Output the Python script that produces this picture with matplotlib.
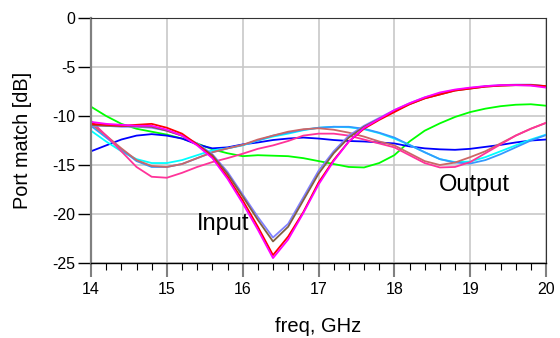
import numpy as np
import matplotlib as mpl
mpl.use('Agg')
import matplotlib.pyplot as plt
from matplotlib.ticker import MultipleLocator

plt.rcParams['font.family'] = ['Liberation Sans', 'DejaVu Sans']
plt.rcParams['axes.unicode_minus'] = False

# frequency grid, GHz
freq = [14.0, 14.2, 14.4, 14.6, 14.8, 15.0, 15.2, 15.4, 15.6, 15.8,
        16.0, 16.2, 16.4, 16.6, 16.8, 17.0, 17.2, 17.4, 17.6, 17.8,
        18.0, 18.2, 18.4, 18.6, 18.8, 19.0, 19.2, 19.4, 19.6, 19.8, 20.0]

# input port match curves (dB)
in_red = [-10.8, -10.9, -11.0, -10.9, -10.8, -11.2, -11.8, -12.9, -14.2, -16.2,
          -18.6, -21.3, -24.2, -22.3, -19.8, -16.8, -14.5, -12.6, -11.3, -10.4,
          -9.6, -8.8, -8.2, -7.8, -7.4, -7.2, -7.0, -6.9, -6.85, -6.85, -6.95]
in_magenta = [-10.6, -10.8, -10.9, -11.0, -11.0, -11.4, -12.0, -13.0, -14.3, -16.4,
              -18.9, -21.6, -24.5, -22.6, -19.9, -17.0, -14.6, -12.6, -11.2, -10.3,
              -9.4, -8.7, -8.1, -7.6, -7.3, -7.1, -6.95, -6.85, -6.85, -6.9, -7.1]
in_olive = [-10.9, -11.0, -11.0, -11.05, -11.1, -11.5, -12.0, -12.9, -14.0, -15.9,
            -18.2, -20.6, -22.8, -21.3, -18.6, -15.9, -13.8, -12.2, -11.1, -10.3,
            -9.5, -8.8, -8.2, -7.8, -7.4, -7.2, -7.0, -6.9, -6.85, -6.85, -6.95]
in_slate = [-11.0, -11.0, -11.1, -11.1, -11.2, -11.5, -12.0, -12.8, -13.9, -15.7,
            -18.0, -20.3, -22.4, -21.0, -18.3, -15.6, -13.6, -12.0, -11.0, -10.2,
            -9.4, -8.7, -8.1, -7.7, -7.35, -7.15, -6.95, -6.85, -6.8, -6.8, -6.95]

# output port match curves (dB)
out_green = [-9.05, -10.0, -10.8, -11.3, -11.6, -11.9, -12.3, -12.8, -13.4, -13.8,
             -14.1, -14.0, -14.05, -14.1, -14.3, -14.6, -14.9, -15.2, -15.25, -14.8,
             -14.0, -12.6, -11.5, -10.75, -10.1, -9.6, -9.25, -9.0, -8.85, -8.8, -8.95]
out_blue = [-13.6, -13.0, -12.4, -12.0, -11.85, -12.0, -12.3, -12.9, -13.3, -13.2,
            -12.9, -12.7, -12.45, -12.3, -12.2, -12.3, -12.45, -12.55, -12.6, -12.7,
            -12.8, -13.1, -13.3, -13.4, -13.45, -13.35, -13.15, -12.95, -12.7, -12.5, -12.4]
out_cyan = [-11.5, -12.6, -13.6, -14.4, -14.8, -14.8, -14.5, -14.0, -13.5, -13.3,
            -13.0, -12.5, -12.1, -11.8, -11.45, -11.2, -11.1, -11.15, -11.35, -11.75,
            -12.3, -12.95, -13.7, -14.4, -14.7, -14.65, -14.2, -13.6, -13.0, -12.4, -11.9]
out_sky = [-11.0, -12.2, -13.4, -14.6, -15.2, -15.2, -14.9, -14.3, -13.7, -13.3,
           -12.95, -12.5, -12.0, -11.7, -11.4, -11.2, -11.1, -11.1, -11.3, -11.7,
           -12.2, -12.95, -13.7, -14.4, -14.75, -14.85, -14.5, -13.9, -13.2, -12.5, -11.95]
out_rosy = [-10.8, -12.0, -13.3, -14.5, -15.1, -15.2, -14.9, -14.3, -13.7, -13.3,
            -12.95, -12.4, -12.0, -11.6, -11.35, -11.25, -11.4, -11.7, -12.1, -12.6,
            -13.0, -13.8, -14.6, -15.0, -14.75, -14.2, -13.6, -12.8, -12.0, -11.3, -10.7]
out_pink = [-10.5, -12.0, -13.6, -15.2, -16.2, -16.3, -15.8, -15.2, -14.7, -14.3,
            -13.85, -13.35, -13.0, -12.55, -12.0, -11.8, -11.8, -12.0, -12.4, -12.8,
            -13.2, -14.0, -14.8, -15.25, -15.2, -14.7, -13.8, -12.9, -12.0, -11.3, -10.7]

fig = plt.figure(figsize=(5.6, 3.38), dpi=100)
ax = fig.add_axes([0.1625, 0.2219, 0.8125, 0.7248])

# output group first, input group on top
ax.plot(freq, out_green, color='#00FF00', lw=1.3)
ax.plot(freq, out_blue, color='#0000FF', lw=1.3)
ax.plot(freq, out_cyan, color='#00FFFF', lw=1.3)
ax.plot(freq, out_sky, color='#3399FF', lw=1.3)
ax.plot(freq, out_rosy, color='#CC6666', lw=1.3)
ax.plot(freq, out_pink, color='#FF3399', lw=1.3)
ax.plot(freq, in_slate, color='#8080FF', lw=1.3)
ax.plot(freq, in_olive, color='#806040', lw=1.3)
ax.plot(freq, in_red, color='#FF0000', lw=1.3)
ax.plot(freq, in_magenta, color='#FF00FF', lw=1.3)

ax.text(15.74, -21.0, 'Input', fontsize=17, ha='center', va='center')
ax.text(19.05, -17.0, 'Output', fontsize=17, ha='center', va='center')

ax.set_xlim(14, 20)
ax.set_ylim(-25, 0)
ax.xaxis.set_major_locator(MultipleLocator(1))
ax.xaxis.set_minor_locator(MultipleLocator(0.2))
ax.yaxis.set_major_locator(MultipleLocator(5))
ax.grid(True, which='major', color='#C8C8C8', lw=1.2)
ax.set_axisbelow(True)

ax.spines['left'].set_color('#808080')
ax.spines['left'].set_linewidth(1.6)
ax.spines['bottom'].set_color('black')
ax.spines['bottom'].set_linewidth(1.0)
ax.spines['top'].set_color('#333333')
ax.spines['right'].set_color('#333333')

ax.xaxis.set_tick_params(which='major', direction='out', length=10, width=1.5, color='#808080', labelsize=11.5, pad=4)
ax.xaxis.set_tick_params(which='minor', direction='out', length=5, width=0.8, color='black')
ax.yaxis.set_tick_params(which='major', direction='out', length=9.5, width=1.0, color='black', labelsize=11.5, pad=2)

ax.set_xlabel('freq, GHz', fontsize=14.5, labelpad=14)
ax.set_ylabel('Port match [dB]', fontsize=14.3, labelpad=14)

plt.savefig('out.png', dpi=100)
plt.close()
